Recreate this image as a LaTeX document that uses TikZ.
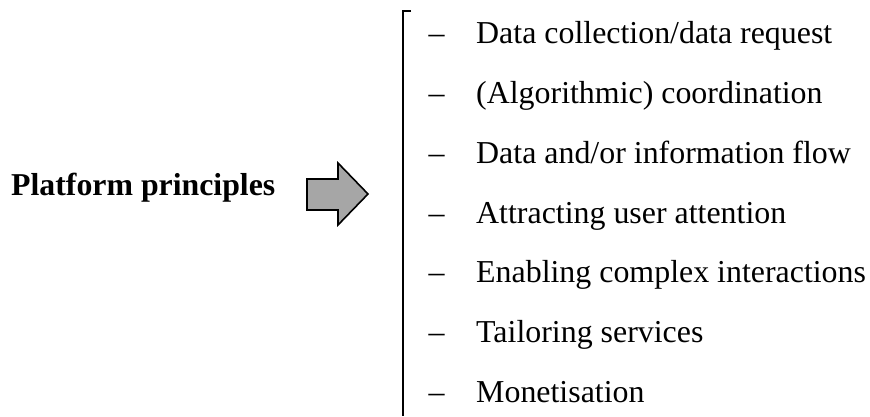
\documentclass[tikz,border=0pt]{standalone}
\usepackage{fontspec}
\setmainfont{Liberation Serif}
\begin{document}
\begin{tikzpicture}[x=1pt,y=1pt,
  item/.style={anchor=base west,inner sep=0pt,font=\fontsize{31.9}{38}\selectfont},
  dashmark/.style={anchor=base,inner sep=0pt,font=\fontsize{31.9}{38}\selectfont},
  bigarrow/.style={draw=black,line width=1.6pt,fill=black!35,line join=miter}]
\useasboundingbox (0,0) rectangle (870,416);
\node[anchor=base west,inner sep=0pt,font=\fontsize{31.8}{38}\selectfont\bfseries] (title) at (11,{416-195}) {Platform principles};
\draw[bigarrow] (307,{416-179}) -- (338,{416-179}) -- (338,{416-163}) -- (368,{416-194}) -- (338,{416-225}) -- (338,{416-210}) -- (307,{416-210}) -- cycle;
\coordinate (btop) at (411,{416-11});
\coordinate (bcorner) at (403,{416-11});
\coordinate (bbot) at (403,0);
\draw[line width=1.3pt] (btop) -- (bcorner) -- (bbot);
\foreach \t [count=\i] in {Data collection/data request,(Algorithmic) coordination,Data and/or information flow,Attracting user attention,Enabling complex interactions,Tailoring services,Monetisation}{
  \pgfmathsetmacro{\yy}{416-44-(\i-1)*59.7}
  \node[dashmark] (d\i) at (436.5,\yy) {–};
  \node[item] (t\i) at (476,\yy) {\t};
}
\end{tikzpicture}
\end{document}
